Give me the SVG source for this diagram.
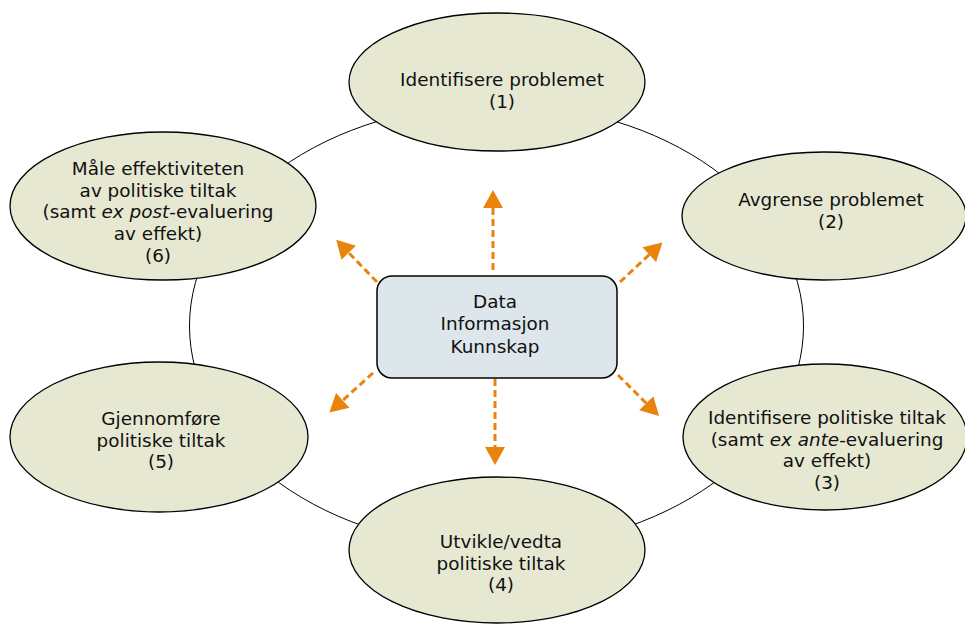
<svg xmlns="http://www.w3.org/2000/svg" width="965" height="626" viewBox="0 0 965 626">
<style>
  .step { fill: #E6E8D2; stroke: #000; stroke-width: 1.3; }
  .hub { fill: #DCE6EB; stroke: #000; stroke-width: 1.5; }
  .ring { fill: none; stroke: #000; stroke-width: 1; }
  .flow { stroke: #E8830C; stroke-width: 3; stroke-dasharray: 7 4; fill: none; }
  text { font-family: "DejaVu Sans", Verdana, sans-serif; font-size: 18.4px; fill: #111; text-anchor: middle; }
  .it { font-style: italic; }
</style>
<defs>
  <marker id="ah" markerUnits="userSpaceOnUse" markerWidth="20" markerHeight="20" viewBox="0 0 18 20" refX="1" refY="10" orient="auto">
    <path d="M0,0 L18,10 L0,20 Z" fill="#E8830C"/>
  </marker>
</defs>
<rect width="965" height="626" fill="#fff"/>
<g id="connectors">
  <ellipse class="ring" cx="496.5" cy="326" rx="307" ry="222"/>
  <line class="flow" x1="493" y1="270" x2="493" y2="207" marker-end="url(#ah)"/>
  <line class="flow" x1="495" y1="379" x2="495" y2="448" marker-end="url(#ah)"/>
  <line class="flow" x1="620" y1="282" x2="650" y2="254" marker-end="url(#ah)"/>
  <line class="flow" x1="377" y1="282" x2="348" y2="252" marker-end="url(#ah)"/>
  <line class="flow" x1="373" y1="373" x2="342" y2="401" marker-end="url(#ah)"/>
  <line class="flow" x1="618" y1="375" x2="647" y2="404" marker-end="url(#ah)"/>
</g>
<g id="node1">
  <ellipse class="step" cx="497" cy="82" rx="148" ry="69"/>
  <text x="502" y="86">Identifisere problemet</text>
  <text x="502" y="108">(1)</text>
</g>
<g id="node2">
  <ellipse class="step" cx="824" cy="216" rx="142" ry="64"/>
  <text x="831" y="206">Avgrense problemet</text>
  <text x="831" y="228">(2)</text>
</g>
<g id="node3">
  <ellipse class="step" cx="825" cy="437" rx="142" ry="73"/>
  <text x="827" y="424">Identifisere politiske tiltak</text>
  <text x="827" y="446">(samt <tspan class="it">ex ante</tspan>-evaluering</text>
  <text x="827" y="467">av effekt)</text>
  <text x="827" y="489">(3)</text>
</g>
<g id="node4">
  <ellipse class="step" cx="497" cy="550" rx="148" ry="73"/>
  <text x="501" y="548">Utvikle/vedta</text>
  <text x="501" y="570">politiske tiltak</text>
  <text x="501" y="591">(4)</text>
</g>
<g id="node5">
  <ellipse class="step" cx="159" cy="437" rx="149" ry="75"/>
  <text x="161" y="425">Gjennomføre</text>
  <text x="161" y="447">politiske tiltak</text>
  <text x="161" y="468">(5)</text>
</g>
<g id="node6">
  <ellipse class="step" cx="163" cy="206" rx="153" ry="74"/>
  <text x="158" y="175">Måle effektiviteten</text>
  <text x="158" y="197">av politiske tiltak</text>
  <text x="158" y="218">(samt <tspan class="it">ex post</tspan>-evaluering</text>
  <text x="158" y="240">av effekt)</text>
  <text x="158" y="262">(6)</text>
</g>
<g id="hub">
  <rect class="hub" x="377" y="276" width="240" height="102" rx="15" ry="15"/>
  <text x="495" y="308">Data</text>
  <text x="495" y="330">Informasjon</text>
  <text x="495" y="353">Kunnskap</text>
</g>
</svg>
